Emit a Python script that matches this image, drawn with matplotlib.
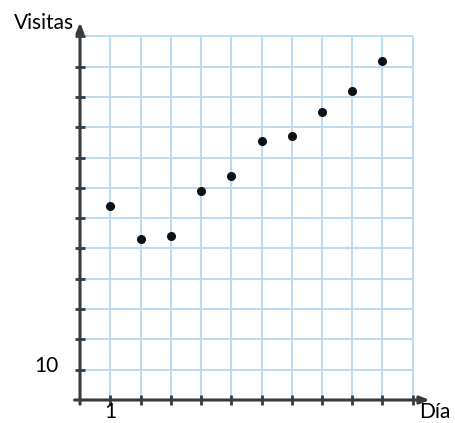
import matplotlib
matplotlib.use("Agg")
import matplotlib.pyplot as plt
import numpy as np

# Data
days = [1, 2, 3, 4, 5, 6, 7, 8, 9, 10]
visits = [64, 53, 54, 69, 74, 85.5, 87, 95, 102, 112]
x_label = "Día"
y_label = "Visitas"
x_tick_label = "1"
y_tick_label = "10"
x_grid = list(range(0, 12))
y_grid = list(range(0, 130, 10))

plt.rcParams['font.family'] = ['Lato', 'DejaVu Sans']

fig = plt.figure(figsize=(4.56, 4.23), dpi=100)
ax = fig.add_axes([0, 0, 1, 1])
ax.set_xlim(-2.645, 12.43)
ax.set_ylim(-7.59, 132.0)
ax.axis('off')

grid_c = '#b8d9f0'
xmax, ymax = x_grid[-1], y_grid[-1]
ax.hlines(y_grid[1:], 0, xmax, color=grid_c, lw=1.3, zorder=1)
ax.vlines(x_grid[1:], 0, ymax, color=grid_c, lw=1.3, zorder=1)

axc = '#3a3a3a'
# axes with arrows
ax.annotate('', xy=(11.65, 0), xytext=(-0.27, 0),
            arrowprops=dict(arrowstyle='-|>,head_length=0.55,head_width=0.22', color=axc, lw=2.2), zorder=3)
ax.annotate('', xy=(0, 125.5), xytext=(0, -2.3),
            arrowprops=dict(arrowstyle='-|>,head_length=0.55,head_width=0.22', color=axc, lw=2.2), zorder=3)
# tick marks
tx = 0.15
ax.hlines(y_grid[1:], -tx, tx, color=axc, lw=2.0, zorder=3)
tyl = 1.5
ax.vlines(x_grid[1:], -tyl, tyl, color=axc, lw=2.0, zorder=3)

ax.plot(days, visits, 'o', color='#111111', ms=5.5, zorder=4)

fs = 15
ax.text(days[0], -7.2, x_tick_label, ha='center', va='bottom', fontsize=fs)
ax.text(-0.7, y_grid[1] + 1.3, y_tick_label, ha='right', va='center', fontsize=fs)
ax.text(-0.2, 124.5, y_label, ha='right', va='center', fontsize=fs)
ax.text(11.2, -7.2, x_label, ha='left', va='bottom', fontsize=fs)

fig.savefig('out.png', dpi=100)
